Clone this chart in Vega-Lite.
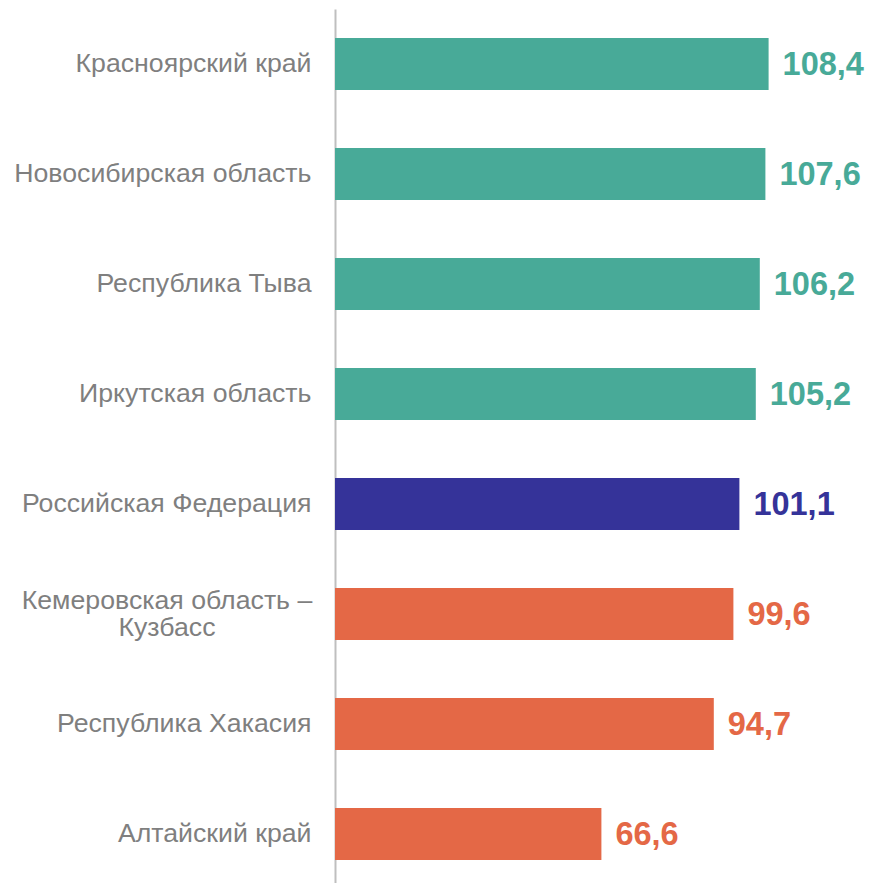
{
  "$schema": "https://vega.github.io/schema/vega-lite/v6.json",
  "autosize": "none",
  "width": 534,
  "height": 880,
  "padding": {"left": 335, "top": 9, "right": 0, "bottom": 0},
  "background": "white",
  "config": {"view": {"stroke": null}, "font": "Liberation Sans"},
  "data": {
    "values": [
      {"region": "Красноярский край", "value": 108.4, "label": "108,4", "group": "above"},
      {"region": "Новосибирская область", "value": 107.6, "label": "107,6", "group": "above"},
      {"region": "Республика Тыва", "value": 106.2, "label": "106,2", "group": "above"},
      {"region": "Иркутская область", "value": 105.2, "label": "105,2", "group": "above"},
      {"region": "Российская Федерация", "value": 101.1, "label": "101,1", "group": "rf"},
      {"region": "Кемеровская область –\nКузбасс", "value": 99.6, "label": "99,6", "group": "below"},
      {"region": "Республика Хакасия", "value": 94.7, "label": "94,7", "group": "below"},
      {"region": "Алтайский край", "value": 66.6, "label": "66,6", "group": "below"}
    ]
  },
  "encoding": {
    "y": {
      "field": "region",
      "type": "nominal",
      "sort": null,
      "scale": {"paddingInner": 0.527, "paddingOuter": 0.2635},
      "axis": {
        "title": null,
        "ticks": false,
        "domainColor": "#bfbfbf",
        "domainWidth": 2,
        "labelFontSize": 26.7,
        "labelColor": "#7f7f7f",
        "labelFont": "Liberation Sans",
        "labelLimit": 400,
        "labelPadding": 24,
        "labelExpr": "indexof(datum.label, 'Кузбасс') >= 0 ? '' : datum.label"
      }
    },
    "x": {
      "field": "value",
      "type": "quantitative",
      "scale": {"domain": [0, 133.5]},
      "axis": null
    },
    "color": {
      "field": "group",
      "type": "nominal",
      "scale": {"domain": ["above", "rf", "below"], "range": ["#48aa98", "#353399", "#e46846"]},
      "legend": null
    }
  },
  "layer": [
    {"mark": {"type": "bar"}},
    {
      "mark": {"type": "text", "align": "left", "baseline": "middle", "dx": 14, "dy": 1, "fontSize": 32.5, "fontWeight": "bold", "font": "Liberation Sans"},
      "encoding": {"text": {"field": "label"}}
    },
    {
      "transform": [{"filter": "indexof(datum.region, 'Кузбасс') >= 0"}],
      "mark": {"type": "text", "align": "center", "baseline": "middle", "dx": -168, "dy": -13, "fontSize": 26.7, "font": "Liberation Sans", "lineBreak": "\n", "lineHeight": 27},
      "encoding": {
        "x": {"datum": 0, "type": "quantitative"},
        "text": {"field": "region"},
        "color": {"value": "#7f7f7f"}
      }
    }
  ]
}
